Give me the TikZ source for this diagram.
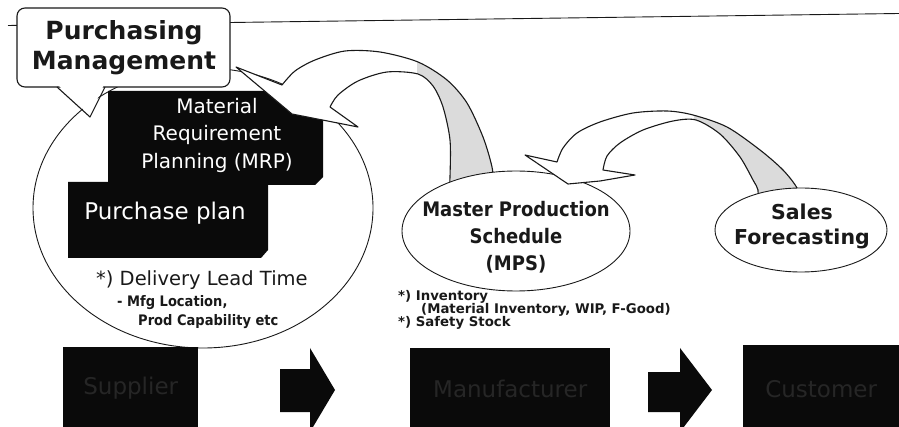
\documentclass[tikz,border=0pt]{standalone}
\usepackage{fontspec}
\setmainfont{DejaVu Sans}
\newfontfamily\narrowsans[FakeStretch=0.9]{DejaVu Sans}
\usetikzlibrary{shapes.geometric}

\definecolor{ink}{rgb}{0.1,0.1,0.1}
\definecolor{boxblack}{rgb}{0.04,0.04,0.04}
\definecolor{dimtext}{rgb}{0.15,0.15,0.15}
\definecolor{backface}{rgb}{0.86,0.86,0.86}

% curved ribbon arrow rising from the MPS bubble and turning back to the MRP box
\newcommand{\ribbonMPS}{(282,85) -- plot[smooth] coordinates {(282,85) (295,71) (315,60) (345,51) (380,52) (418,62) (447,80) (467,103) (483,137) (492,167) (494,188)} -- (449,192) -- plot[smooth] coordinates {(449,192) (450,177) (450,140) (443,107) (433,86) (418,74) (387,72) (358,81) (338,95) (330,107)} -- (358,127) -- (292,114) -- (236,67) -- cycle}
% curved ribbon arrow rising from the sales bubble and turning back to the MPS bubble
\newcommand{\ribbonSales}{(557,162) -- plot[smooth] coordinates {(557,162) (563,148) (577,133) (600,122) (633,113) (667,111) (693,115) (727,127) (760,150) (783,170) (797,188) (800,202)} -- (757,202) -- plot[smooth] coordinates {(757,202) (758,190) (753,180) (740,157) (720,134) (696,120) (673,121) (643,130) (620,143) (607,156) (603,170)} -- (635,175) -- (600,181) -- (568,184) -- (525,155) -- cycle}

\begin{document}
\begin{tikzpicture}[x=1pt,y=-1pt,
  outline/.style={draw=ink,line width=1.1pt,line join=round},
  thinline/.style={draw=ink,line width=0.9pt},
  bubble/.style={ellipse,draw=ink,line width=0.9pt,fill=white,inner sep=0pt},
  darkbox/.style={fill=boxblack},
  stagebox/.style={fill=boxblack,text=dimtext,inner sep=0pt,anchor=north west,
    font=\fontsize{23}{27}\selectfont},
  whitelabel/.style={text=white,inner sep=0pt},
  note/.style={anchor=west,inner sep=0pt,text=ink},
  smallnote/.style={note,font=\narrowsans\bfseries\fontsize{14.5}{17}\selectfont},
  stocknote/.style={note,font=\bfseries\fontsize{13.3}{15}\selectfont}]
\useasboundingbox (0,0) rectangle (899,427);
\clip (0,0) rectangle (899,427);

% top rule
\coordinate (ruleL) at (8,25.5);
\coordinate (ruleR) at (899,13.5);
\draw[thinline] (ruleL) -- (ruleR);

% purchasing area
\node[ellipse,draw=ink,line width=0.9pt,minimum width=340pt,minimum height=280pt,inner sep=0pt] (pmarea) at (203,208) {};
\node[note,font=\fontsize{19.5}{23}\selectfont] (lead) at (96,280) {*) Delivery Lead Time};
\node[smallnote] (mfg) at (117,303) {- Mfg Location,};
\node[smallnote] (capab) at (138,322) {Prod Capability etc};

% callout
\draw[outline,fill=white,rounded corners=8pt] (17,8) rectangle (230,87);
\fill[white] (58.5,85.5) -- (103.5,85.5) -- (90,116) -- cycle;
\draw[outline] (57,87) -- (90,117) -- (105,87);
\node[font=\bfseries\fontsize{25}{30}\selectfont,align=center,text=ink,inner sep=0pt] (pmtitle) at (124,48) {Purchasing\\Management};

% black planning boxes
\fill[darkbox] (108,91) -- (323,91) -- (323,177) -- (315,185) -- (108,185) -- cycle;
\fill[darkbox] (68,182) -- (268,182) -- (268,250) -- (261,258) -- (68,258) -- cycle;
\node[whitelabel,align=center,font=\fontsize{20}{27.5}\selectfont] (mrp) at (217,135) {Material\\Requirement\\Planning (MRP)};
\node[whitelabel,font=\fontsize{23}{27}\selectfont] (pplan) at (165,213) {Purchase plan};

% ribbon: MPS -> MRP
\fill[white] \ribbonMPS;
\begin{scope}
  \clip (417,0) rectangle (540,220);
  \fill[backface] \ribbonMPS;
\end{scope}
\draw[outline] \ribbonMPS;

% MPS bubble
\node[bubble,minimum width=228pt,minimum height=120pt] (mps) at (516,231) {};
\node[font=\narrowsans\bfseries\fontsize{20}{27}\selectfont,align=center,text=ink,inner sep=0pt] (mpstext) at (516,237) {Master Production\\Schedule\\(MPS)};

% ribbon: sales -> MPS
\fill[white] \ribbonSales;
\begin{scope}
  \clip (694,0) rectangle (830,220);
  \fill[backface] \ribbonSales;
\end{scope}
\draw[outline] \ribbonSales;

% sales bubble
\node[bubble,minimum width=172pt,minimum height=84pt] (sales) at (801,230) {};
\node[font=\bfseries\fontsize{20.5}{25}\selectfont,align=center,text=ink,inner sep=0pt] (salestext) at (802,226) {Sales\\Forecasting};

% inventory notes
\node[stocknote] (inv) at (398,297) {*) Inventory};
\node[stocknote] (invdetail) at (421,310) {(Material Inventory, WIP, F-Good)};
\node[stocknote] (safety) at (398,323) {*) Safety Stock};

% supply chain row
\node[stagebox,minimum width=135pt,minimum height=82pt] (supplier) at (63,347) {Supplier};
\node[stagebox,minimum width=200pt,minimum height=82pt] (maker) at (410,348) {Manufacturer};
\node[stagebox,minimum width=156pt,minimum height=88pt] (customer) at (743,345) {Customer};
\fill[boxblack] (280,369) -- (310,369) -- (310,348) -- (335,390) -- (310,432) -- (310,412) -- (280,412) -- cycle;
\fill[boxblack] (648,372) -- (680,372) -- (680,348) -- (712,390) -- (680,432) -- (680,412) -- (648,412) -- cycle;
\end{tikzpicture}
\end{document}
